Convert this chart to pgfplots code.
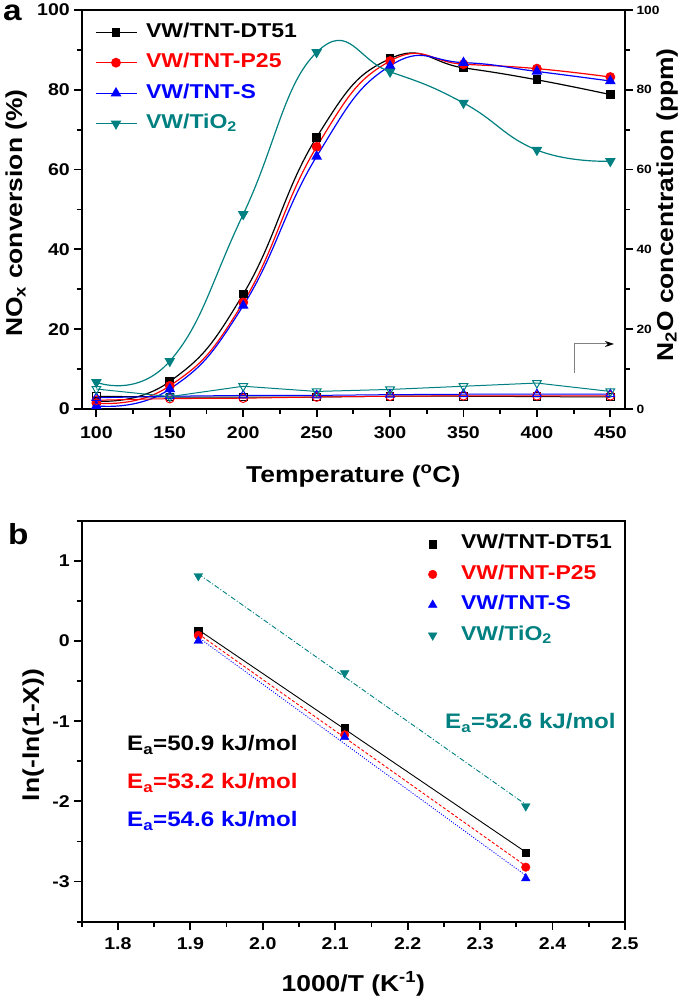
\documentclass[border=0pt]{standalone}
\usepackage{fontspec}
\setmainfont{Liberation Sans}[FakeStretch=1.15]
\usepackage{pgfplots}
\pgfplotsset{compat=1.18}
\usetikzlibrary{arrows.meta}
\definecolor{tealc}{RGB}{0,128,128}
\newcommand{\fs}[1]{\fontsize{#1}{#1}\selectfont\bfseries}
\pgfplotsset{
  base/.style={
    scale only axis,
    width=543.3pt,
    /pgf/number format/assume math mode=true,
    tick align=outside,
    major tick length=8pt,
    minor tick length=5pt,
    axis line style={line width=1.8pt},
    major tick style={line width=1.8pt, black},
    minor tick style={line width=1.8pt, black},
    ticklabel style={font=\fs{17}},
    yticklabel style={inner sep=0pt, xshift=-3.7pt},
    xtick pos=left, ytick pos=left,
  },
}
\begin{document}
\begin{tikzpicture}[x=1pt,y=1pt]
\useasboundingbox (0,0) rectangle (685,1003);
% ---------------- panel a, left axis ----------------
\begin{axis}[base, at={(81.7pt,594pt)}, anchor=south west, height=399pt,
  xmin=90, xmax=460, ymin=0, ymax=100,
  xtick={100,150,...,450}, minor xtick={125,175,...,425},
  ytick={0,20,...,100}, minor ytick={10,30,...,90},
  xticklabel style={inner sep=0pt, yshift=-9pt},
  legend style={draw=none, fill=none, at={(0,1)}, anchor=north west,
    xshift=10pt, yshift=-10pt, font=\fs{20},
    nodes={inner sep=0pt, text height=15pt, text depth=5pt},
    row sep=10.5pt, column sep=9pt},
  legend cell align=left,
  legend image code/.code={\draw[mark repeat=2,mark phase=2,#1] plot coordinates {(0pt,0pt) (20.5pt,0pt) (41pt,0pt)};},
]
\addplot[black, line width=1.2pt, smooth, tension=0.8, mark=square*, mark size=3.8pt] coordinates {
(100,2.0) (150,6.9) (200,28.8) (250,68.1) (300,87.8) (350,85.5) (400,82.5) (450,78.8)};
\addlegendentry{\textcolor{black}{VW/TNT-DT51}}
\addplot[red, line width=1.2pt, smooth, tension=0.8, mark=*, mark size=4.3pt] coordinates {
(100,1.5) (150,5.8) (200,26.7) (250,65.7) (300,87.2) (350,86.4) (400,85.3) (450,83.2)};
\addlegendentry{\textcolor{red}{VW/TNT-P25}}
\addplot[blue, line width=1.2pt, smooth, tension=0.8, mark=triangle*, mark size=5pt] coordinates {
(100,0.8) (150,5.0) (200,25.9) (250,63.3) (300,86.0) (350,86.8) (400,84.6) (450,82.2)};
\addlegendentry{\textcolor{blue}{VW/TNT-S}}
\addplot[tealc, line width=1.2pt, smooth, tension=0.8, mark=triangle*, mark size=5pt, mark options={rotate=180}] coordinates {
(100,6.7) (150,12.0) (200,48.8) (250,89.4) (300,84.5) (350,76.7) (400,64.9) (450,62.1)};
\addlegendentry{\textcolor{tealc}{VW/TiO\textsubscript{2}}}
\end{axis}
% ---------------- panel a, right axis (N2O) ----------------
\begin{axis}[base, at={(81.7pt,594pt)}, anchor=south west, height=399pt,
  xmin=90, xmax=460, ymin=0, ymax=100,
  axis x line=none, axis y line*=right, ytick pos=right,
  ytick={0,20,...,100}, minor ytick={10,30,...,90},
  yticklabel style={font=\fs{12}, inner sep=0pt, xshift=7pt},
]
\addplot[black, line width=1pt, mark=square, mark size=3.8pt] coordinates {
(100,3.2) (150,3.0) (200,3.0) (250,3.0) (300,3.2) (350,3.2) (400,3.1) (450,3.0)};
\addplot[red, line width=1pt, mark=o, mark size=4.3pt] coordinates {
(100,2.2) (150,2.6) (200,2.7) (250,3.0) (300,3.2) (350,3.3) (400,3.3) (450,3.3)};
\addplot[blue, line width=1pt, mark=triangle, mark size=5pt] coordinates {
(100,2.8) (150,3.2) (200,3.4) (250,3.4) (300,3.6) (350,3.7) (400,3.7) (450,3.7)};
\addplot[tealc, line width=1pt, mark=triangle, mark size=5pt, mark options={rotate=180}] coordinates {
(100,5.0) (150,3.1) (200,5.7) (250,4.4) (300,4.9) (350,5.7) (400,6.5) (450,4.4)};
\end{axis}
\draw[gray, line width=1pt, -{Stealth[black,length=9pt,width=6pt]}] (574,630) -- (574,659) -- (614,659);
\node[anchor=base west, inner sep=0pt, font=\fs{29}] at (3,982) {a};
\node[rotate=90, anchor=base, font=\fs{23}] at (22,790) {NO\textsubscript{x} conversion (\%)};
\node[rotate=90, anchor=base, font=\fs{23}] at (673,798) {N\textsubscript{2}O concentration (ppm)};
\node[anchor=base, font=\fs{23}] at (353.3,520) {Temperature (\textsuperscript{o}C)};
% ---------------- panel b ----------------
\begin{axis}[base, at={(81.7pt,81.3pt)}, anchor=south west, height=401pt,
  xmin=1.75, xmax=2.5, ymin=-3.5, ymax=1.5,
  xtick={1.8,1.9,...,2.5}, minor xtick={1.75,1.85,...,2.45},
  ytick={-3,...,1}, minor ytick={-3.5,-2.5,...,1.5},
  xticklabel style={inner sep=0pt, yshift=-7.6pt, /pgf/number format/.cd, fixed, fixed zerofill, precision=1},
  legend style={draw=none, fill=none, at={(1,1)}, anchor=north east,
    xshift=-10pt, yshift=-11pt, font=\fs{20},
    nodes={inner sep=0pt, text height=15pt, text depth=5pt},
    row sep=10.5pt, column sep=24pt},
  legend cell align=left,
  legend image code/.code={\draw[#1] plot coordinates {(0pt,0pt)};},
]
\addplot[only marks, black, mark=square*, mark size=3.8pt] coordinates {(1.911,0.13) (2.113,-1.08) (2.363,-2.64)};
\addlegendentry{\textcolor{black}{VW/TNT-DT51}}
\addplot[only marks, red, mark=*, mark size=4.3pt] coordinates {(1.911,0.07) (2.113,-1.17) (2.363,-2.82)};
\addlegendentry{\textcolor{red}{VW/TNT-P25}}
\addplot[only marks, blue, mark=triangle*, mark size=5pt] coordinates {(1.911,0.0) (2.113,-1.20) (2.363,-2.96)};
\addlegendentry{\textcolor{blue}{VW/TNT-S}}
\addplot[only marks, tealc, mark=triangle*, mark size=5pt, mark options={rotate=180}] coordinates {(1.911,0.81) (2.113,-0.40) (2.363,-2.06)};
\addlegendentry{\textcolor{tealc}{VW/TiO\textsubscript{2}}}
\addplot[forget plot, black, line width=0.9pt] coordinates {(1.911,0.140) (2.363,-2.632)};
\addplot[forget plot, red, line width=0.9pt, dash pattern=on 3pt off 2pt] coordinates {(1.911,0.089) (2.363,-2.805)};
\addplot[forget plot, blue, line width=0.9pt, dash pattern=on 1pt off 1.5pt] coordinates {(1.911,0.045) (2.363,-2.924)};
\addplot[forget plot, tealc, line width=0.9pt, dash pattern=on 5pt off 2pt on 1pt off 2pt] coordinates {(1.911,0.837) (2.363,-2.039)};
\end{axis}
\node[anchor=base west, inner sep=0pt, font=\fs{29}] at (8,458) {b};
\node[rotate=90, anchor=base, font=\fs{23}] at (39,268) {ln(-ln(1-X))};
\node[anchor=base, font=\fs{23}] at (353.3,11) {1000/T (K\textsuperscript{-1})};
\node[anchor=base west, inner sep=0pt, font=\fs{21}] at (127,252) {E\textsubscript{a}=50.9 kJ/mol};
\node[anchor=base west, inner sep=0pt, font=\fs{21}, red] at (127,214) {E\textsubscript{a}=53.2 kJ/mol};
\node[anchor=base west, inner sep=0pt, font=\fs{21}, blue] at (127,176) {E\textsubscript{a}=54.6 kJ/mol};
\node[anchor=base west, inner sep=0pt, font=\fs{21}, tealc] at (445,274) {E\textsubscript{a}=52.6 kJ/mol};
\end{tikzpicture}
\end{document}
